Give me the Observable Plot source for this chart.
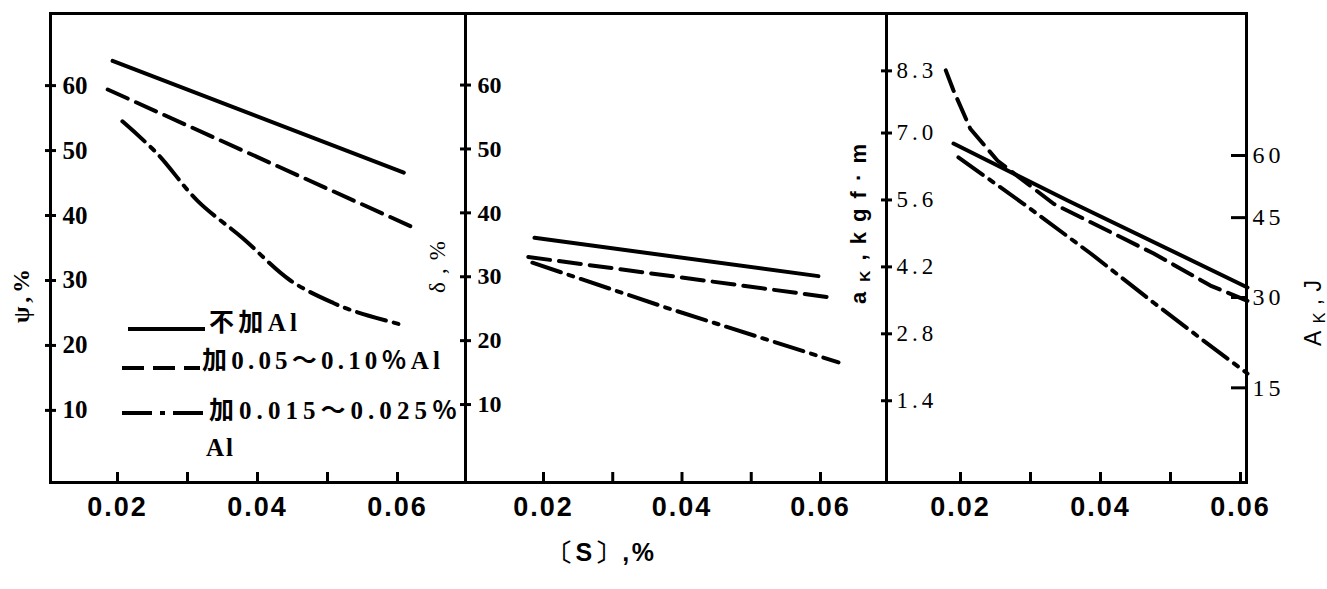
<!DOCTYPE html>
<html><head><meta charset="utf-8">
<script src="https://cdn.jsdelivr.net/npm/d3@7"></script>
<script src="https://cdn.jsdelivr.net/npm/@observablehq/plot@0.6"></script>
<style>
html,body{margin:0;padding:0;background:#fff;}
#chart{position:relative;width:1327px;height:589px;overflow:hidden;background:#fff;}
#chart > svg{position:absolute;top:0;}
g[aria-label="x-axis tick label"]{letter-spacing:2px;}
.p3 g[aria-label="y-axis tick label"]{letter-spacing:4px;}
</style></head><body><div id="chart"></div>
<script>
// ---------- data ----------
const sTicks = [0.02, 0.03, 0.04, 0.05, 0.06];
const sLabelTicks = [0.02, 0.04, 0.06];
const sLabels = ["0.02", "0.04", "0.06"];

const seriesNames = ["不加Al", "加0.05～0.10％Al", "加0.015～0.025％", "Al"];

// Panel 1: ψ, %
const psiTicks = [10, 20, 30, 40, 50, 60];
const psiS_none = [0.0193, 0.0609];
const psi_none  = [63.8, 46.6];
const psiS_high = [0.0186, 0.0626];
const psi_high  = [59.4, 38.0];
const psiS_low  = [0.0207, 0.0257, 0.0314, 0.0379, 0.0447, 0.0509, 0.0543, 0.0609];
const psi_low   = [54.5, 49.5, 42.3, 36.5, 30.0, 26.5, 25.1, 23.1];

// Panel 2: δ, %
const deltaTicks = [10, 20, 30, 40, 50, 60];
const deltaS_none = [0.0187, 0.0597];
const delta_none  = [36.1, 30.1];
const deltaS_high = [0.0178, 0.0612];
const delta_high  = [33.1, 26.8];
const deltaS_low  = [0.0184, 0.0379, 0.0626];
const delta_low   = [32.2, 25.1, 16.6];

// Panel 3: aK, kgf·m  (right axis AK, J)
const akTicks = [1.4, 2.8, 4.2, 5.6, 7.0, 8.3];
const akJTickPos = [6.53, 5.23, 3.56, 1.67];
const akJTickLabels = ["60", "45", "30", "15"];
const akS_none = [0.0190, 0.0353, 0.0610];
const ak_none  = [6.78, 5.59, 3.77];
const akS_high = [0.0179, 0.0190, 0.0214, 0.0253, 0.0333, 0.0476, 0.0557, 0.0610];
const ak_high  = [8.31, 7.89, 7.09, 6.42, 5.52, 4.48, 3.81, 3.49];
const akS_low  = [0.0197, 0.0290, 0.0386, 0.0476, 0.0547, 0.0610];
const ak_low   = [6.49, 5.52, 4.48, 3.45, 2.66, 1.97];

// ---------- styles ----------
const dashes = [null, "22,9", "30,8,5,8"];
const zip = (xs, ys) => xs.map((s, i) => ({s, v: ys[i]}));
const FRAME_H = 589 - 13 - 107;

function panel({left, frameW, xDomain, yDomain, lines, yTicks, yFmt, yFont, yPad, cls, extra}) {
  const pad = 14;
  const svg = Plot.plot({
    width: frameW + 2 * pad, height: 589,
    marginLeft: pad, marginRight: pad, marginTop: 13, marginBottom: 107,
    x: {domain: xDomain, label: null},
    y: {domain: yDomain, label: null},
    style: {background: "none", overflow: "visible", color: "black"},
    marks: [
      ...lines.map((d, i) => Plot.line(d, {x: "s", y: "v", stroke: "black", strokeWidth: 4, strokeDasharray: dashes[i], curve: i === 2 && cls === "p1" ? "catmull-rom" : "linear"})),
      Plot.frame({stroke: "black", strokeWidth: 3}),
      // inward x ticks
      Plot.tickX(sTicks, {x: d => d, stroke: "black", strokeWidth: 3, insetTop: FRAME_H - 10}),
      Plot.axisX(sLabelTicks, {anchor: "bottom", tickSize: 0, tickPadding: 14, tickFormat: d => sLabels[sLabelTicks.indexOf(d)],
        fontSize: 27, fontWeight: "bold", fontFamily: "Liberation Sans"}),
      // y ticks crossing the left axis
      Plot.tickY(yTicks, {y: d => d, stroke: "black", strokeWidth: 3, insetRight: frameW - 11, dx: -5}),
      Plot.axisY(yTicks, {anchor: "left", tickSize: 0, tickPadding: yPad, textAnchor: "start", tickFormat: yFmt, ...yFont}),
      ...extra(frameW)
    ]
  });
  svg.classList.add(cls);
  svg.style.left = (left - pad) + "px";
  document.getElementById("chart").appendChild(svg);
  return svg;
}

panel({
  cls: "p1", left: 50, frameW: 415, xDomain: [0.01043, 0.06971], yDomain: [-1.1, 71.1],
  lines: [zip(psiS_none, psi_none), zip(psiS_high, psi_high), zip(psiS_low, psi_low)],
  yTicks: psiTicks, yFmt: d => String(d), yPad: -12,
  yFont: {fontSize: 25, fontWeight: "bold", fontFamily: "Liberation Serif"},
  extra: () => []
});

panel({
  cls: "p2", left: 465, frameW: 421, xDomain: [0.00874, 0.06953], yDomain: [-2.2, 71.2],
  lines: [zip(deltaS_none, delta_none), zip(deltaS_high, delta_high), zip(deltaS_low, delta_low)],
  yTicks: deltaTicks, yFmt: d => String(d), yPad: -12,
  yFont: {fontSize: 24, fontWeight: "bold", fontFamily: "Liberation Serif"},
  extra: () => []
});

panel({
  cls: "p3", left: 886, frameW: 360, xDomain: [0.00943, 0.06086], yDomain: [-0.31, 9.5],
  lines: [zip(akS_none, ak_none), zip(akS_high, ak_high), zip(akS_low, ak_low)],
  yTicks: akTicks, yFmt: d => d.toFixed(1), yPad: -10,
  yFont: {fontSize: 23, fontFamily: "Liberation Serif"},
  extra: fw => [
    Plot.tickY(akJTickPos, {y: d => d, stroke: "black", strokeWidth: 3, insetLeft: fw - 15}),
    Plot.axisY(akJTickPos, {anchor: "right", tickSize: 0, tickPadding: 6, tickFormat: d => akJTickLabels[akJTickPos.indexOf(d)],
      fontSize: 24, fontFamily: "Liberation Serif"})
  ]
});

// ---------- overlay: legend and axis titles ----------
const ov = d3.select("#chart").append("svg")
  .attr("width", 1327).attr("height", 589)
  .style("position", "absolute").style("left", "0px").style("top", "0px");

const legendLayout = [
  {x1: 128, x2: 205, y: 329, tx: 209, ty: 322, tl: 88},
  {x1: 122, x2: 200, y: 368, tx: 202, ty: 360, tl: 238},
  {x1: 122, x2: 207, y: 413, tx: 209, ty: 410, tl: 248},
  {tx: 206, ty: 447, tl: 27}
];
legendLayout.forEach((L, i) => {
  if (L.x1 !== undefined) {
    ov.append("line").attr("x1", L.x1).attr("x2", L.x2).attr("y1", L.y).attr("y2", L.y)
      .attr("stroke", "black").attr("stroke-width", 4).attr("stroke-dasharray", dashes[i]);
  }
  ov.append("text").attr("x", L.tx).attr("y", L.ty).attr("dominant-baseline", "central")
    .attr("font-family", "'Liberation Serif', 'Noto Sans CJK SC', serif").attr("font-weight", "bold")
    .attr("font-size", 25).attr("textLength", L.tl).attr("lengthAdjust", "spacing")
    .text(seriesNames[i]);
});

function vtitle(cx, cy, len, size, weight, family, parts) {
  const t = ov.append("text").attr("transform", `translate(${cx},${cy}) rotate(-90)`)
    .attr("text-anchor", "middle").attr("dominant-baseline", "central")
    .attr("font-size", size).attr("font-weight", weight).attr("font-family", family)
    .attr("textLength", len).attr("lengthAdjust", "spacing");
  parts.forEach(p => {
    const ts = t.append("tspan").text(p.t);
    if (p.sub) ts.attr("font-size", size * 0.7).attr("dy", 6);
    if (p.up) ts.attr("dy", -6);
  });
}
vtitle(21, 296, 54, 24, "bold", "'Liberation Serif', serif", [{t: "ψ,%"}]);
vtitle(437, 267, 52, 23, "normal", "'Liberation Serif', serif", [{t: "δ,%"}]);
vtitle(858, 224, 160, 22, "bold", "'Liberation Sans', sans-serif", [{t: "a"}, {t: "K", sub: true}, {t: ",kgf·m", up: true}]);
vtitle(1313, 313, 66, 23, "normal", "'Liberation Sans', sans-serif", [{t: "A"}, {t: "K", sub: true}, {t: ",J", up: true}]);

ov.append("text").attr("x", 601).attr("y", 552).attr("text-anchor", "middle").attr("dominant-baseline", "central")
  .attr("font-size", 25).attr("font-weight", "bold").attr("font-family", "'Liberation Sans', sans-serif")
  .attr("textLength", 106).attr("lengthAdjust", "spacing").text("〔S〕,%");
</script></body></html>
